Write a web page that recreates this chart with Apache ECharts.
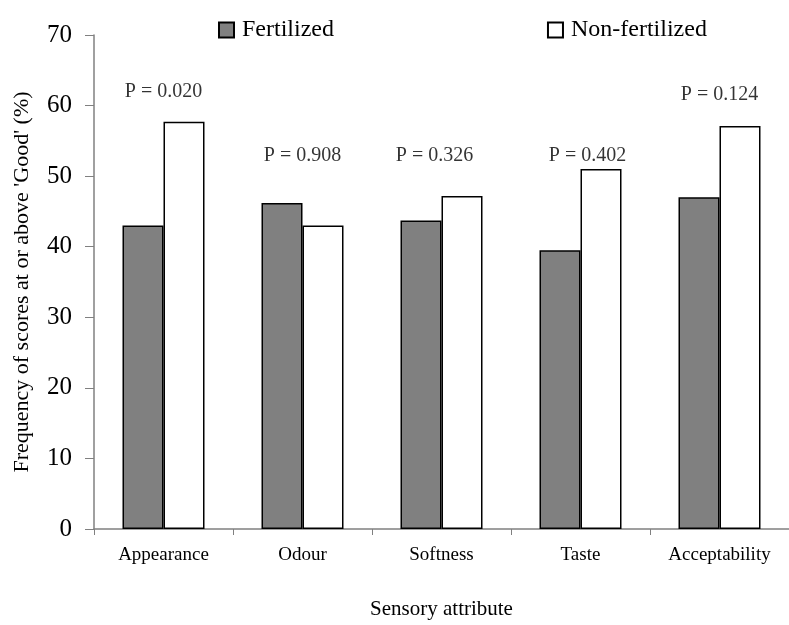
<!DOCTYPE html>
<html>
<head>
<meta charset="utf-8">
<script src="https://cdn.jsdelivr.net/npm/echarts@6/dist/echarts.min.js"></script>
<style>html,body{margin:0;padding:0;background:#fff}#c{width:789px;height:625px}</style>
</head>
<body>
<div id="c"></div>
<script>
var categories = ['Appearance', 'Odour', 'Softness', 'Taste', 'Acceptability'];
var fertilized = [43.0, 46.2, 43.7, 39.5, 47.0];
var nonFertilized = [57.7, 43.0, 47.2, 51.0, 57.1];
var pValues = ['P = 0.020', 'P = 0.908', 'P = 0.326', 'P = 0.402', 'P = 0.124'];
var pLabelLevel = [61.9, 52.9, 52.9, 52.9, 61.6];
var yTicks = [0, 10, 20, 30, 40, 50, 60, 70];

var FONT = '"Liberation Serif", "Times New Roman", serif';
var labelNudge = {2: -7, 3: 7};
var chart = echarts.init(document.getElementById('c'), null, {renderer: 'canvas'});
chart.setOption({
  animation: false,
  backgroundColor: '#fff',
  textStyle: {fontFamily: FONT, color: '#000'},
  legend: {
    left: 213, top: 13,
    icon: 'rect',
    itemWidth: 15, itemHeight: 15,
    itemGap: 213,
    data: ['Fertilized', 'Non-fertilized'],
    textStyle: {fontFamily: FONT, fontSize: 24, color: '#000', padding: [0, 0, 0, 3]}
  },
  grid: {left: 94, top: 35, bottom: 90, right: -11, containLabel: false},
  xAxis: {
    type: 'category',
    data: categories,
    name: 'Sensory attribute',
    nameLocation: 'middle',
    nameGap: 70,
    nameTextStyle: {fontFamily: FONT, fontSize: 21, color: '#000'},
    axisLine: {lineStyle: {color: '#808080', width: 1.5}},
    axisTick: {show: true, length: 6, lineStyle: {color: '#808080'}},
    axisLabel: {fontFamily: FONT, fontSize: 19, color: '#000', margin: 17}
  },
  yAxis: {
    type: 'value',
    min: yTicks[0], max: yTicks[yTicks.length - 1], interval: 10,
    name: "Frequency of scores at or above 'Good' (%)",
    nameLocation: 'middle',
    nameGap: 61,
    nameTextStyle: {fontFamily: FONT, fontSize: 22, color: '#000'},
    axisLine: {show: true, lineStyle: {color: '#808080', width: 1.5}},
    axisTick: {show: true, length: 9, lineStyle: {color: '#808080'}},
    splitLine: {show: false},
    axisLabel: {fontFamily: FONT, fontSize: 25, color: '#000', margin: 22}
  },
  series: [
    {
      name: 'Fertilized', type: 'bar', data: fertilized,
      barWidth: 41, barGap: '0%',
      itemStyle: {color: '#808080', borderColor: '#000', borderWidth: 1.5}
    },
    {
      name: 'Non-fertilized', type: 'bar', data: nonFertilized,
      barWidth: 41, barGap: '0%',
      itemStyle: {color: '#fff', borderColor: '#000', borderWidth: 1.5}
    },
    {
      name: 'P', type: 'scatter', symbolSize: 0, silent: true,
      data: categories.map(function (c, i) {
        return {value: [c, pLabelLevel[i]], label: {formatter: pValues[i], offset: [labelNudge[i] || 0, 0]}};
      }),
      label: {show: true, position: 'inside', fontFamily: FONT, fontSize: 20, color: '#000'}
    }
  ]
});
</script>
</body>
</html>
